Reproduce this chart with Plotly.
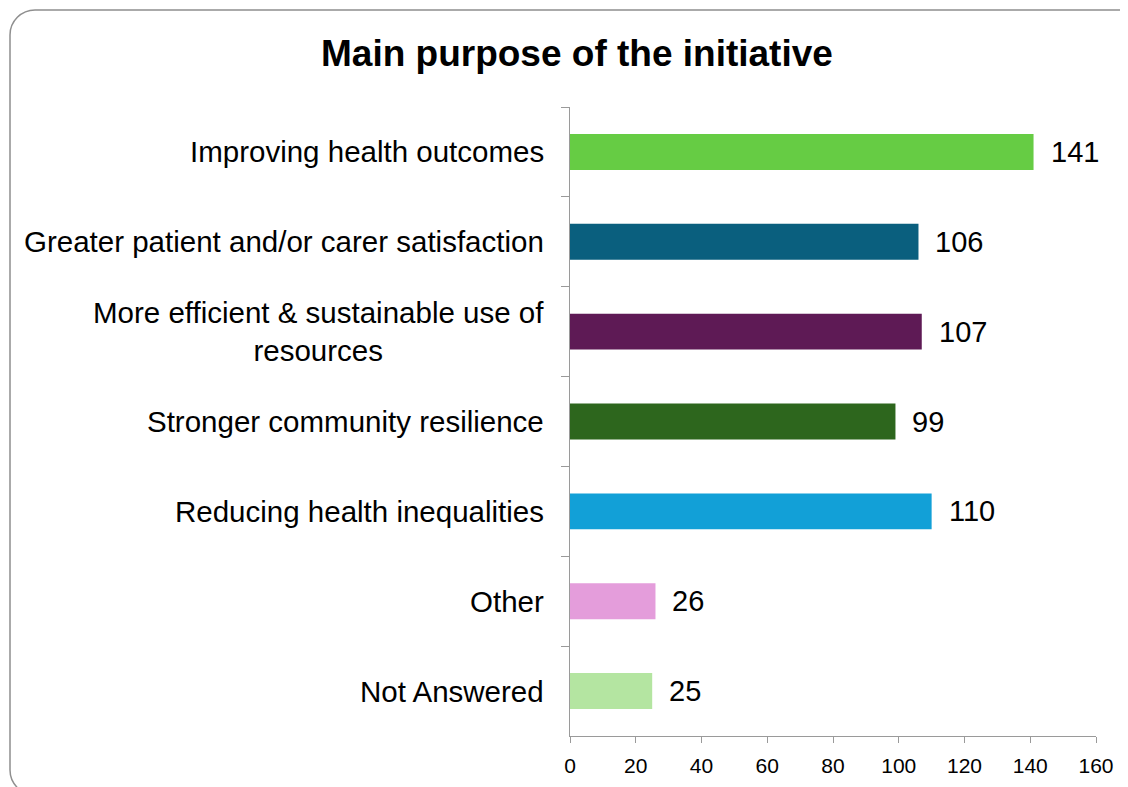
import plotly.graph_objects as go

categories = [
    "Improving health outcomes",
    "Greater patient and/or carer satisfaction",
    "More efficient & sustainable use of<br>resources",
    "Stronger community resilience",
    "Reducing health inequalities",
    "Other",
    "Not Answered",
]
values = [141, 106, 107, 99, 110, 26, 25]
colors = ["#66CC44", "#0A5F7E", "#5E1A55", "#2D661D", "#12A0D7", "#E49DDB", "#B4E5A1"]
x_ticks = [0, 20, 40, 60, 80, 100, 120, 140, 160]

W, H = 1128, 787
OFF = 8  # page body margin
L, R, T = 570 - OFF, 1128 - (1096 - OFF), 107 - OFF
B = 787 - (736 - OFF)
pw, ph = W - L - R, H - T - B

def px(x):  # screen x -> paper
    return (x - OFF - L) / pw

def py(y):  # screen y -> paper
    return (H - B - (y - OFF)) / ph

FONT = "Arial, Liberation Sans, sans-serif"

fig = go.Figure()
fig.add_trace(go.Bar(
    y=categories, x=values, orientation="h",
    marker=dict(color=colors, line=dict(width=0)),
    width=0.4, hoverinfo="x+y",
))

annotations = []
for c, v in zip(categories, values):
    annotations.append(dict(
        x=v, y=c, xref="x", yref="y", text=str(v), showarrow=False,
        xanchor="left", yanchor="middle", xshift=15,
        font=dict(family=FONT, size=29, color="#000000"),
    ))
    annotations.append(dict(
        x=0, y=c, xref="paper", yref="y", text=c, showarrow=False,
        xanchor="right", yanchor="middle", xshift=-24, align="center",
        font=dict(family=FONT, size=29.5, color="#000000"),
    ))
annotations.append(dict(
    x=px(577), y=py(53), xref="paper", yref="paper",
    text="<b>Main purpose of the initiative</b>", showarrow=False,
    xanchor="center", yanchor="middle",
    font=dict(family=FONT, size=37, color="#000000"),
))

# rounded frame around the chart
x0, y0, x1, y1, r = 10, 10, 1143, 795, 25
k = 0.45
path = (
    f"M {px(x0)},{py(y0 + r)} "
    f"C {px(x0)},{py(y0 + r * k)} {px(x0 + r * k)},{py(y0)} {px(x0 + r)},{py(y0)} "
    f"L {px(x1 - r)},{py(y0)} "
    f"C {px(x1 - r * k)},{py(y0)} {px(x1)},{py(y0 + r * k)} {px(x1)},{py(y0 + r)} "
    f"L {px(x1)},{py(y1 - r)} "
    f"C {px(x1)},{py(y1 - r * k)} {px(x1 - r * k)},{py(y1)} {px(x1 - r)},{py(y1)} "
    f"L {px(x0 + r)},{py(y1)} "
    f"C {px(x0 + r * k)},{py(y1)} {px(x0)},{py(y1 - r * k)} {px(x0)},{py(y1 - r)} Z"
)

fig.update_layout(
    width=W, height=H,
    margin=dict(l=L, r=R, t=T, b=B, pad=0),
    paper_bgcolor="#ffffff", plot_bgcolor="#ffffff",
    showlegend=False, bargap=0.6,
    font=dict(family=FONT, size=20, color="#000000"),
    annotations=annotations,
    shapes=[dict(type="path", path=path, xref="paper", yref="paper",
                 line=dict(color="#8f8f8f", width=1.5), layer="below")],
    xaxis=dict(
        range=[0, 160], tickvals=x_ticks, ticktext=[str(t) for t in x_ticks],
        showgrid=False, zeroline=False, showline=True,
        linecolor="#9a9a9a", linewidth=1.3,
        ticks="outside", ticklen=6, tickcolor="#9a9a9a", tickwidth=1.3,
        ticklabelstandoff=5,
        tickfont=dict(family=FONT, size=21, color="#000000"),
        fixedrange=True,
    ),
    yaxis=dict(
        autorange="reversed", showgrid=False, zeroline=False, showline=True,
        linecolor="#9a9a9a", linewidth=1.3,
        ticks="outside", tickson="boundaries", ticklen=8,
        tickcolor="#9a9a9a", tickwidth=1.3,
        showticklabels=False, fixedrange=True,
    ),
)

fig.write_html("out.html")
